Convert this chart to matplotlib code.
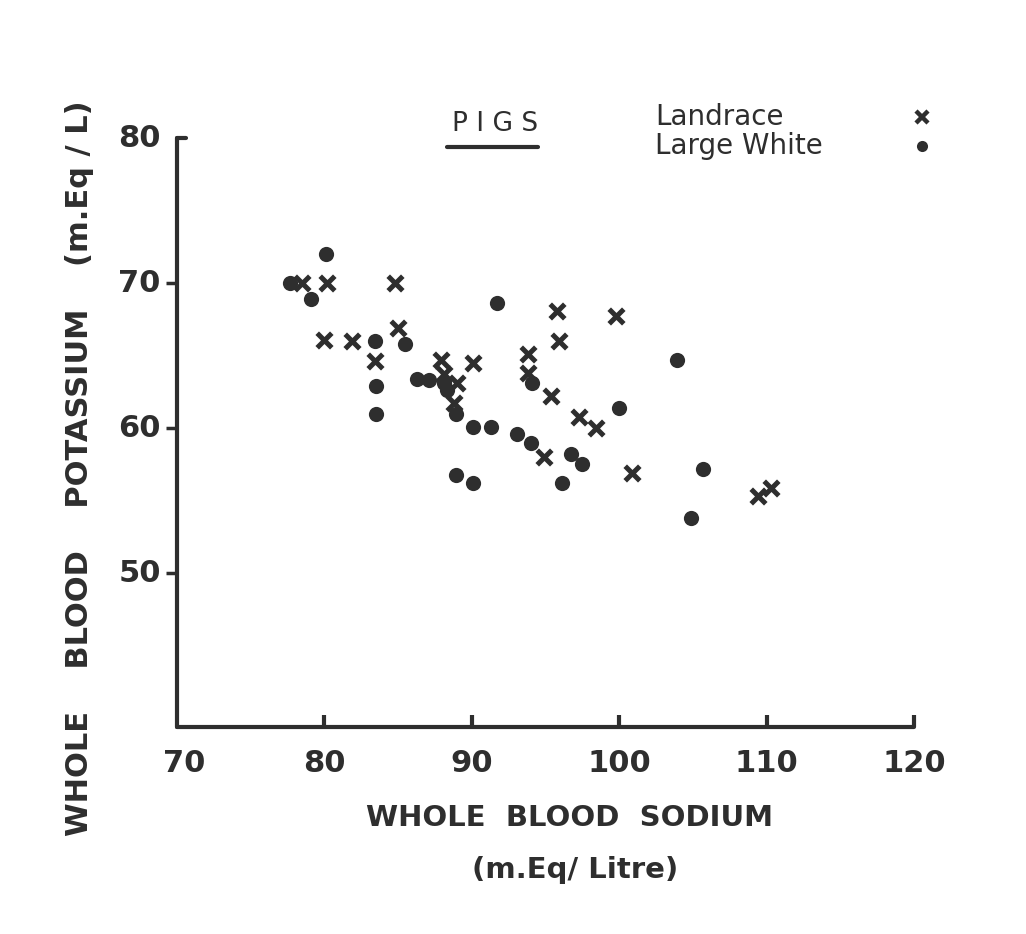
import matplotlib.pyplot as plt

# Landrace (crosses)
landrace_na = [78.5, 80.2, 84.8, 80.0, 81.9, 85.0, 83.4, 87.9, 90.1, 88.1,
               89.0, 88.8, 95.8, 99.8, 95.9, 93.8, 93.8, 95.4, 97.3, 98.4,
               94.9, 100.9, 109.4, 110.3]
landrace_k = [70.0, 70.0, 70.0, 66.1, 66.0, 66.9, 64.6, 64.7, 64.5, 63.7,
              63.1, 61.7, 68.1, 67.7, 66.0, 65.1, 63.8, 62.2, 60.8, 60.0,
              58.0, 56.9, 55.3, 55.9]

# Large White (dots)
white_na = [77.7, 80.1, 79.1, 91.7, 83.4, 85.5, 83.5, 83.5, 86.3, 87.1,
            88.1, 88.3, 88.9, 90.1, 91.3, 88.9, 90.1, 94.1, 103.9, 100.0,
            93.1, 94.0, 96.7, 97.5, 96.1, 105.7, 104.9]
white_k = [70.0, 72.0, 68.9, 68.6, 66.0, 65.8, 62.9, 61.0, 63.4, 63.3,
           63.1, 62.6, 61.0, 60.1, 60.1, 56.8, 56.2, 63.1, 64.7, 61.4,
           59.6, 59.0, 58.2, 57.5, 56.2, 57.2, 53.8]

x_ticks = [80, 90, 100, 110, 120]
x_labels = [70, 80, 90, 100, 110, 120]
y_ticks = [50, 60, 70]
y_labels = [50, 60, 70, 80]

ink = '#2e2e2e'
W, H = 1026, 934

fig = plt.figure(figsize=(W / 100, H / 100), dpi=100)
fig.patch.set_facecolor('white')

# axes box in pixels: left 177, right 914, top 138, bottom 727
ax = fig.add_axes([177 / W, 1 - 727 / H, (914 - 177) / W, (727 - 138) / H])
ax.set_xlim(70, 120)
ax.set_ylim(39.4, 80)

ax.scatter(white_na, white_k, s=120, c=ink, marker='o', linewidths=0, zorder=3)
ax.scatter(landrace_na, landrace_k, s=110, c=ink, marker='x', linewidths=3.6, zorder=3)

for side in ['top', 'right']:
    ax.spines[side].set_visible(False)
for side in ['left', 'bottom']:
    ax.spines[side].set_linewidth(3)
    ax.spines[side].set_color(ink)
    ax.spines[side].set_capstyle('round')

ax.set_xticks(x_ticks)
ax.set_xticklabels([])
ax.set_yticks(y_ticks)
ax.set_yticklabels([])
ax.tick_params(axis='x', direction='in', length=9, width=3, color=ink)
ax.tick_params(axis='y', direction='out', length=8, width=2.5, color=ink)

# hand-lettered tick labels
for v in x_labels:
    ax.text(v + (0.5 if v == 70 else 0), 36.9, str(v), ha='center', va='center',
            fontsize=22, fontweight='semibold', color=ink)
for v in y_labels:
    ax.text(68.9, v, str(v), ha='right', va='center',
            fontsize=22, fontweight='semibold', color=ink)
# little hook at the top of the y axis
ax.plot([70, 70.6], [80, 80], color=ink, lw=3, solid_capstyle='round',
        clip_on=False)

# axis titles
fig.text(80 / W, 1 - 468 / H, 'WHOLE    BLOOD    POTASSIUM    (m.Eq / L)',
         rotation=90, ha='center', va='center', fontsize=22,
         fontweight='bold', color=ink)
fig.text(570 / W, 1 - 818 / H, 'WHOLE  BLOOD  SODIUM', ha='center',
         va='center', fontsize=21, fontweight='bold', color=ink)
fig.text(575 / W, 1 - 870 / H, '(m.Eq/ Litre)', ha='center', va='center',
         fontsize=21, fontweight='bold', color=ink)

# title and key
fig.text(495 / W, 1 - 124 / H, 'P I G S', ha='center', va='center',
         fontsize=19, color=ink)
fig.add_artist(plt.Line2D([447 / W, 538 / W], [1 - 147 / H, 1 - 147 / H],
                          color=ink, lw=3, solid_capstyle='round'))
fig.text(655 / W, 1 - 117 / H, 'Landrace', ha='left', va='center',
         fontsize=20, color=ink)
fig.text(655 / W, 1 - 146 / H, 'Large White', ha='left', va='center',
         fontsize=20, color=ink)
fig.add_artist(plt.Line2D([922 / W], [1 - 117 / H], marker='x', color=ink,
                          markersize=8, markeredgewidth=3.2, linestyle='none'))
fig.add_artist(plt.Line2D([922 / W], [1 - 146 / H], marker='o', color=ink,
                          markersize=8, markeredgewidth=0, linestyle='none'))

fig.savefig('out.png', dpi=100, facecolor='white')
